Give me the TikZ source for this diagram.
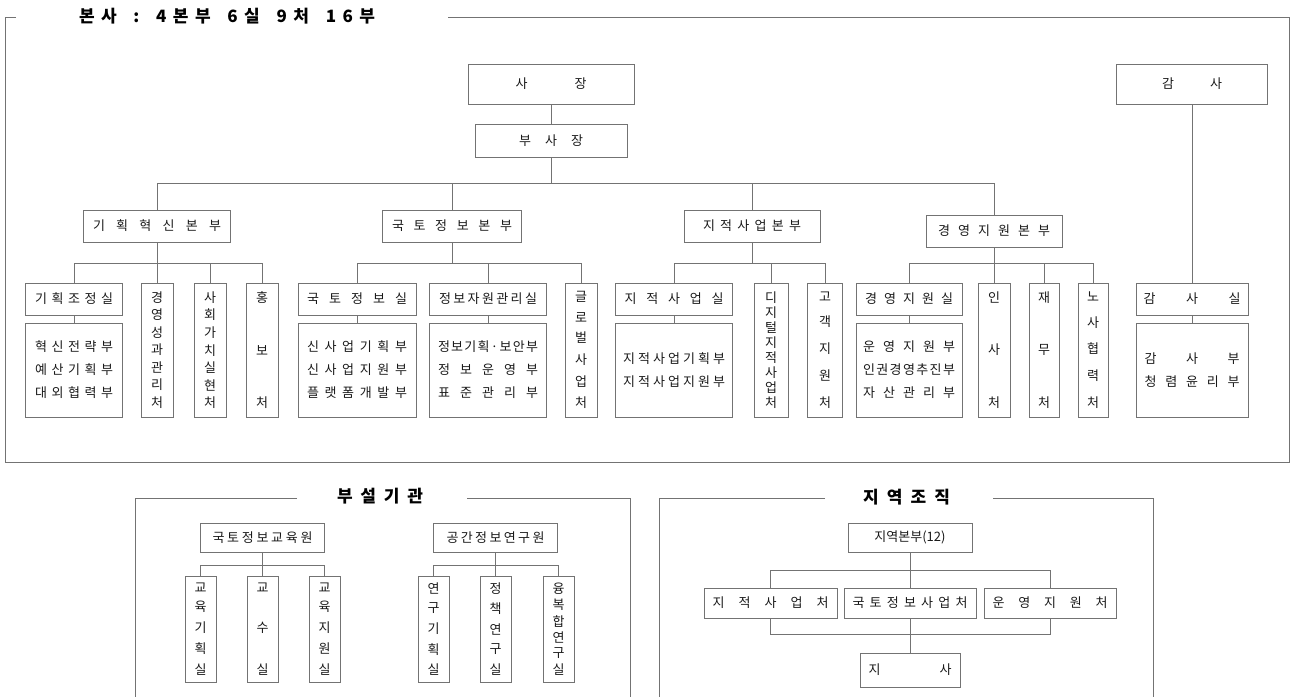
\documentclass[tikz,border=0pt]{standalone}
\usepackage{fontspec}
\setmainfont{Noto Sans CJK KR}
\colorlet{linegray}{black!55}
\colorlet{inkgray}{black!90}
\makeatletter
\newcommand\spread[2]{\hbox to #1{\let\sp@gap\relax\@tfor\sp@c:=#2\do{\sp@gap\sp@c\let\sp@gap\hfil}}}
\newcommand\vtext[2]{\vbox to #1{\offinterlineskip\let\sp@gap\relax\@tfor\sp@c:=#2\do{\sp@gap\hbox to 14pt{\hss\sp@c\hss}\let\sp@gap\vfill}}}
\makeatother
\tikzset{
  box/.style={draw=linegray, line width=0.7pt, inner sep=0pt, text=inkgray, font=\fontsize{13}{23}\selectfont, align=center},
  head/.style={box, minimum height=32pt},
  dept/.style={box, minimum height=94pt},
  tall/.style={box, minimum width=32pt, minimum height=134pt},
  shorttall/.style={box, minimum width=31pt, minimum height=106pt},
  wire/.style={draw=linegray, line width=0.7pt},
  heading/.style={text=black, font=\fontsize{17}{19}\selectfont\bfseries}
}
\begin{document}
\begin{tikzpicture}[x=1pt,y=-1pt]
            \useasboundingbox (0,0) rectangle (1291,697);

            \node[heading] (title) at (227,16) {\spread{296pt}{본사{~}:{~}4본부{~}6실{~}9처{~}16부}};
            \draw[wire] (16,17) -- (5,17) -- (5,462) -- (1289,462) -- (1289,17) -- (448,17);

            \node[box, minimum width=166pt, minimum height=40pt] (ceo) at (551,84) {\spread{71pt}{사장}};
            \node[box, minimum width=152pt, minimum height=33pt] (vp) at (551,140.5) {\spread{64pt}{부사장}};
            \node[box, minimum width=151pt, minimum height=40pt] (auditor) at (1192,84) {\spread{60pt}{감사}};

            \node[head, minimum width=147pt] (planhq) at (157,226) {\spread{128pt}{기획혁신본부}};
            \node[head, minimum width=139pt] (geohq) at (452,226) {\spread{120pt}{국토정보본부}};
            \node[head, minimum width=136pt] (cadhq) at (752,226) {\spread{98pt}{지적사업본부}};
            \node[head, minimum width=136pt] (mgmthq) at (994,231) {\spread{112pt}{경영지원본부}};

            \node[head, minimum width=97pt] (plan) at (74,299) {\spread{78pt}{기획조정실}};
            \node[dept, minimum width=97pt] (planteams) at (74,370) {\spread{78pt}{혁신전략부}\\\spread{78pt}{예산기획부}\\\spread{78pt}{대외협력부}};
            \node[tall] (perf) at (157,350) {\vtext{116pt}{경영성과관리처}};
            \node[tall] (social) at (210,350) {\vtext{116pt}{사회가치실현처}};
            \node[tall] (pr) at (262,350) {\vtext{116pt}{홍보처}};

            \node[head, minimum width=118pt] (geo) at (357,299) {\spread{100pt}{국토정보실}};
            \node[dept, minimum width=118pt] (geoteams) at (357,370) {\spread{100pt}{신사업기획부}\\\spread{100pt}{신사업지원부}\\\spread{100pt}{플랫폼개발부}};
            \node[head, minimum width=117pt] (info) at (488,299) {\spread{98pt}{정보자원관리실}};
            \node[dept, minimum width=117pt] (infoteams) at (488,370) {\spread{100pt}{정보기획·보안부}\\\spread{100pt}{정보운영부}\\\spread{100pt}{표준관리부}};
            \node[tall] (glob) at (581,350) {\vtext{116pt}{글로벌사업처}};

            \node[head, minimum width=117pt] (cad) at (674,299) {\spread{99pt}{지적사업실}};
            \node[dept, minimum width=117pt] (cadteams) at (674,370) {\spread{102pt}{지적사업기획부}\\\spread{102pt}{지적사업지원부}};
            \node[tall, minimum width=34pt] (digital) at (771,350) {\vtext{116pt}{디지털지적사업처}};
            \node[tall, minimum width=35pt] (cust) at (825,350) {\vtext{116pt}{고객지원처}};

            \node[head, minimum width=106pt] (mgmt) at (909,299) {\spread{88pt}{경영지원실}};
            \node[dept, minimum width=106pt] (mgmtteams) at (909,370) {\spread{92pt}{운영지원부}\\\spread{92pt}{인권경영추진부}\\\spread{92pt}{자산관리부}};
            \node[tall] (hr) at (994,350) {\vtext{116pt}{인사처}};
            \node[tall, minimum width=30pt] (fin) at (1044,350) {\vtext{116pt}{재무처}};
            \node[tall, minimum width=30pt] (labor) at (1093,350) {\vtext{116pt}{노사협력처}};

            \node[head, minimum width=112pt] (audit) at (1192,299) {\spread{97pt}{감사실}};
            \node[dept, minimum width=112pt] (auditteams) at (1192,370) {\spread{95pt}{감사부}\\\spread{95pt}{청렴윤리부}};

            \coordinate (top) at (0,183);
            \coordinate (mid) at (0,263);
            \draw[wire] (ceo) -- (vp);
            \draw[wire] (vp.south) -- (vp.south |- top) -| (planhq.north);
            \draw[wire] (vp.south |- top) -| (geohq.north);
            \draw[wire] (vp.south |- top) -| (cadhq.north);
            \draw[wire] (vp.south |- top) -| (mgmthq.north);
            \draw[wire] (auditor) -- (audit);
            \draw[wire] (audit) -- (auditteams);

            \draw[wire] (planhq) -- (perf);
            \draw[wire] (planhq.south |- mid) -| (plan.north);
            \draw[wire] (planhq.south |- mid) -| (social.north);
            \draw[wire] (planhq.south |- mid) -| (pr.north);
            \draw[wire] (plan) -- (planteams);

            \draw[wire] (geohq.south) -- (geohq.south |- mid) -| (geo.north);
            \draw[wire] (geohq.south |- mid) -| (info.north);
            \draw[wire] (geohq.south |- mid) -| (glob.north);
            \draw[wire] (geo) -- (geoteams);
            \draw[wire] (info) -- (infoteams);

            \draw[wire] (cadhq.south) -- (cadhq.south |- mid) -| (cad.north);
            \draw[wire] (cadhq.south |- mid) -| (digital.north);
            \draw[wire] (cadhq.south |- mid) -| (cust.north);
            \draw[wire] (cad) -- (cadteams);

            \draw[wire] (mgmthq) -- (hr);
            \draw[wire] (mgmthq.south |- mid) -| (mgmt.north);
            \draw[wire] (mgmthq.south |- mid) -| (fin.north);
            \draw[wire] (mgmthq.south |- mid) -| (labor.north);
            \draw[wire] (mgmt) -- (mgmtteams);

            \node[heading] (annex) at (380,496) {\spread{86pt}{부설기관}};
            \draw[wire] (297,498) -- (135,498) -- (135,697);
            \draw[wire] (467,498) -- (630,498) -- (630,697);

            \node[box, minimum width=124pt, minimum height=29pt] (edu) at (262.5,537.5) {\spread{100pt}{국토정보교육원}};
            \node[shorttall] (eduplan) at (200.5,629) {\vtext{92pt}{교육기획실}};
            \node[shorttall] (prof) at (262.5,629) {\vtext{92pt}{교수실}};
            \node[shorttall] (edusup) at (324.5,629) {\vtext{92pt}{교육지원실}};
            \node[box, minimum width=124pt, minimum height=29pt] (lab) at (495.5,537.5) {\spread{98pt}{공간정보연구원}};
            \node[shorttall] (labplan) at (433.5,629) {\vtext{92pt}{연구기획실}};
            \node[shorttall] (policy) at (495.5,629) {\vtext{92pt}{정책연구실}};
            \node[shorttall] (fusion) at (558.5,629) {\vtext{92pt}{융복합연구실}};

            \coordinate (low) at (0,565);
            \draw[wire] (edu) -- (prof);
            \draw[wire] (edu.south |- low) -| (eduplan.north);
            \draw[wire] (edu.south |- low) -| (edusup.north);
            \draw[wire] (lab) -- (policy);
            \draw[wire] (lab.south |- low) -| (labplan.north);
            \draw[wire] (lab.south |- low) -| (fusion.north);

            \node[heading] (local) at (906.5,497) {\spread{87pt}{지역조직}};
            \draw[wire] (825,498) -- (659,498) -- (659,697);
            \draw[wire] (993,498) -- (1153,498) -- (1153,697);

            \node[box, minimum width=124pt, minimum height=29pt] (region) at (910,537.5) {지역본부(12)};
            \node[box, minimum width=133pt, minimum height=30pt] (cadoff) at (770.5,603) {\spread{116pt}{지적사업처}};
            \node[box, minimum width=132pt, minimum height=30pt] (geooff) at (910,603) {\spread{115pt}{국토정보사업처}};
            \node[box, minimum width=132pt, minimum height=30pt] (opsoff) at (1050,603) {\spread{115pt}{운영지원처}};
            \node[box, minimum width=100pt, minimum height=34pt] (branch) at (910,670) {\spread{83pt}{지사}};

            \coordinate (rtop) at (0,570);
            \coordinate (rbot) at (0,634);
            \draw[wire] (region) -- (geooff);
            \draw[wire] (region.south |- rtop) -| (cadoff.north);
            \draw[wire] (region.south |- rtop) -| (opsoff.north);
            \draw[wire] (geooff) -- (branch);
            \draw[wire] (cadoff.south) |- (opsoff.south |- rbot) -- (opsoff.south);
\end{tikzpicture}
\end{document}
